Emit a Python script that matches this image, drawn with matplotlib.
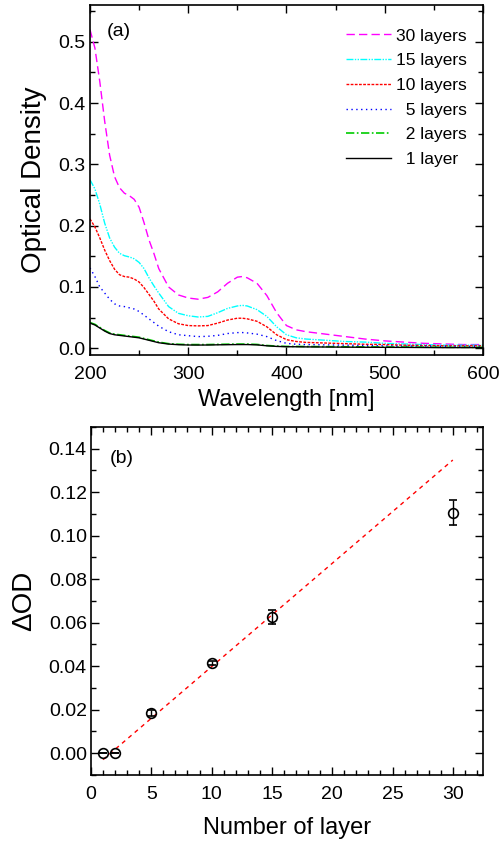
import numpy as np
import matplotlib
matplotlib.use("Agg")
import matplotlib.pyplot as plt
from matplotlib.ticker import MultipleLocator, FormatStrFormatter

plt.rcParams['font.family'] = ['Liberation Sans', 'DejaVu Sans']

# ---- panel (a): absorption spectra ----
wavelength = [200, 205, 210, 215, 220, 225, 230, 235, 240, 245, 250, 255, 260, 265, 270,
              280, 290, 300, 310, 320, 330, 340, 350, 355, 360, 370, 380, 390, 400, 410,
              420, 440, 460, 480, 500, 520, 540, 560, 580, 600]

od_30 = [0.520, 0.490, 0.435, 0.370, 0.315, 0.280, 0.262, 0.253, 0.249, 0.243, 0.230, 0.205,
         0.177, 0.155, 0.130, 0.100, 0.087, 0.082, 0.080, 0.083, 0.092, 0.106, 0.116, 0.117,
         0.115, 0.106, 0.086, 0.058, 0.037, 0.030, 0.027, 0.023, 0.019, 0.015, 0.012, 0.010,
         0.008, 0.007, 0.006, 0.006]
od_15 = [0.275, 0.260, 0.235, 0.204, 0.180, 0.165, 0.155, 0.151, 0.149, 0.146, 0.140, 0.130,
         0.115, 0.102, 0.090, 0.068, 0.057, 0.053, 0.051, 0.052, 0.058, 0.065, 0.069, 0.070,
         0.069, 0.063, 0.052, 0.035, 0.022, 0.017, 0.015, 0.013, 0.011, 0.010, 0.008, 0.007,
         0.006, 0.005, 0.005, 0.005]
od_10 = [0.211, 0.198, 0.180, 0.160, 0.143, 0.129, 0.120, 0.117, 0.116, 0.113, 0.108, 0.099,
         0.088, 0.077, 0.064, 0.048, 0.040, 0.037, 0.0365, 0.037, 0.041, 0.046, 0.049, 0.049,
         0.048, 0.044, 0.035, 0.022, 0.014, 0.011, 0.0095, 0.0085, 0.0075, 0.0065, 0.006,
         0.005, 0.0045, 0.004, 0.004, 0.004]
od_5 = [0.131, 0.117, 0.100, 0.090, 0.080, 0.0725, 0.069, 0.068, 0.066, 0.064, 0.060, 0.054,
        0.048, 0.042, 0.036, 0.027, 0.022, 0.0205, 0.019, 0.0195, 0.021, 0.024, 0.0255, 0.0256,
        0.025, 0.023, 0.019, 0.0125, 0.008, 0.0065, 0.006, 0.0055, 0.005, 0.0045, 0.004,
        0.0035, 0.0035, 0.003, 0.003, 0.003]
od_2 = [0.042, 0.039, 0.034, 0.029, 0.025, 0.023, 0.022, 0.021, 0.020, 0.019, 0.018, 0.016,
        0.014, 0.012, 0.010, 0.0075, 0.0065, 0.006, 0.006, 0.006, 0.0063, 0.0066, 0.0068,
        0.0068, 0.0068, 0.0062, 0.0045, 0.0035, 0.003, 0.003, 0.0028, 0.0026, 0.0024, 0.0022,
        0.002, 0.002, 0.0018, 0.0016, 0.0015, 0.0015]
od_1 = [0.041, 0.038, 0.033, 0.028, 0.024, 0.022, 0.021, 0.020, 0.019, 0.018, 0.017, 0.015,
        0.013, 0.011, 0.009, 0.0068, 0.0058, 0.0053, 0.0052, 0.0053, 0.0056, 0.0058, 0.006,
        0.006, 0.006, 0.0055, 0.004, 0.003, 0.0025, 0.0024, 0.0022, 0.002, 0.0018, 0.0016,
        0.0015, 0.0014, 0.0012, 0.001, 0.001, 0.001]

# ---- panel (b): delta OD vs number of layers ----
n_layers = [1, 2, 5, 10, 15, 30]
delta_od = [0.0, 0.0, 0.0185, 0.0415, 0.0625, 0.1105]
delta_err = [0.0, 0.0, 0.0012, 0.0008, 0.0033, 0.0057]
fit_slope = 0.00475
fit_intercept = -0.0077
fit_range = [1, 30]

fig = plt.figure(figsize=(5.01, 8.43), dpi=100)
ax1 = fig.add_axes([0.1796, 0.5789, 0.7844, 0.4151])
ax2 = fig.add_axes([0.1816, 0.0807, 0.7824, 0.4128])

ax1.plot(wavelength, od_30, color='#ff00ff', lw=1.0, ls=(0, (6, 3)), label='30 layers')
ax1.plot(wavelength, od_15, color='#00ffff', lw=1.0, ls=(0, (5, 1, 1, 1, 1, 1)), label='15 layers')
ax1.plot(wavelength, od_10, color='#ff0000', lw=1.0, ls=(0, (2, 1)), label='10 layers')
ax1.plot(wavelength, od_5, color='#0000ff', lw=1.0, ls=(0, (1, 2.5)), label='  5 layers')
ax1.plot(wavelength, od_2, color='#00cc00', lw=1.2, ls=(0, (5, 1.5, 1, 1.5)), label='  2 layers')
ax1.plot(wavelength, od_1, color='black', lw=1.0, ls='-', label='  1 layer')

ax1.set_xlim(200, 600)
ax1.set_ylim(-0.011, 0.56)
ax1.xaxis.set_major_locator(MultipleLocator(100))
ax1.xaxis.set_minor_locator(MultipleLocator(50))
ax1.yaxis.set_major_locator(MultipleLocator(0.1))
ax1.yaxis.set_minor_locator(MultipleLocator(0.05))
ax1.yaxis.set_major_formatter(FormatStrFormatter('%.1f'))
ax1.set_xlabel('Wavelength [nm]', fontsize=17, labelpad=4)
ax1.set_ylabel('Optical Density', fontsize=20, labelpad=8)
ax1.text(0.043, 0.95, '(a)', transform=ax1.transAxes, fontsize=14, va='top', ha='left')
leg = ax1.legend(loc='upper right', bbox_to_anchor=(1.0, 0.978), frameon=False,
                 fontsize=12.5, handlelength=2.6, handletextpad=0.3, labelspacing=0.55)

ax2.plot(fit_range, [fit_slope * x + fit_intercept for x in fit_range], color='red',
         lw=1.0, ls=(0, (3, 3)))
ax2.errorbar(n_layers, delta_od, yerr=delta_err, fmt='o', mfc='none', mec='black',
             ms=7, mew=1.2, ecolor='black', elinewidth=1.0, capsize=3, capthick=1.0)
ax2.set_xlim(0, 32.5)
ax2.set_ylim(-0.01, 0.15)
ax2.xaxis.set_major_locator(MultipleLocator(5))
ax2.xaxis.set_minor_locator(MultipleLocator(1))
ax2.yaxis.set_major_locator(MultipleLocator(0.02))
ax2.yaxis.set_minor_locator(MultipleLocator(0.01))
ax2.yaxis.set_major_formatter(FormatStrFormatter('%.2f'))
ax2.set_xlabel('Number of layer', fontsize=17, labelpad=10)
ax2.set_ylabel('ΔOD', fontsize=20, labelpad=8)
ax2.text(0.047, 0.935, '(b)', transform=ax2.transAxes, fontsize=14, va='top', ha='left')

for ax in (ax1, ax2):
    for s in ax.spines.values():
        s.set_linewidth(1.2)
    ax.tick_params(which='both', direction='in', top=True, right=True, width=1.0,
                   labelsize=14)
    ax.tick_params(axis='x', which='both', pad=8)
    ax.tick_params(axis='y', which='both', pad=3)
    ax.tick_params(which='major', length=6)
    ax.tick_params(which='minor', length=3.5)

fig.savefig('out.png', dpi=100)
